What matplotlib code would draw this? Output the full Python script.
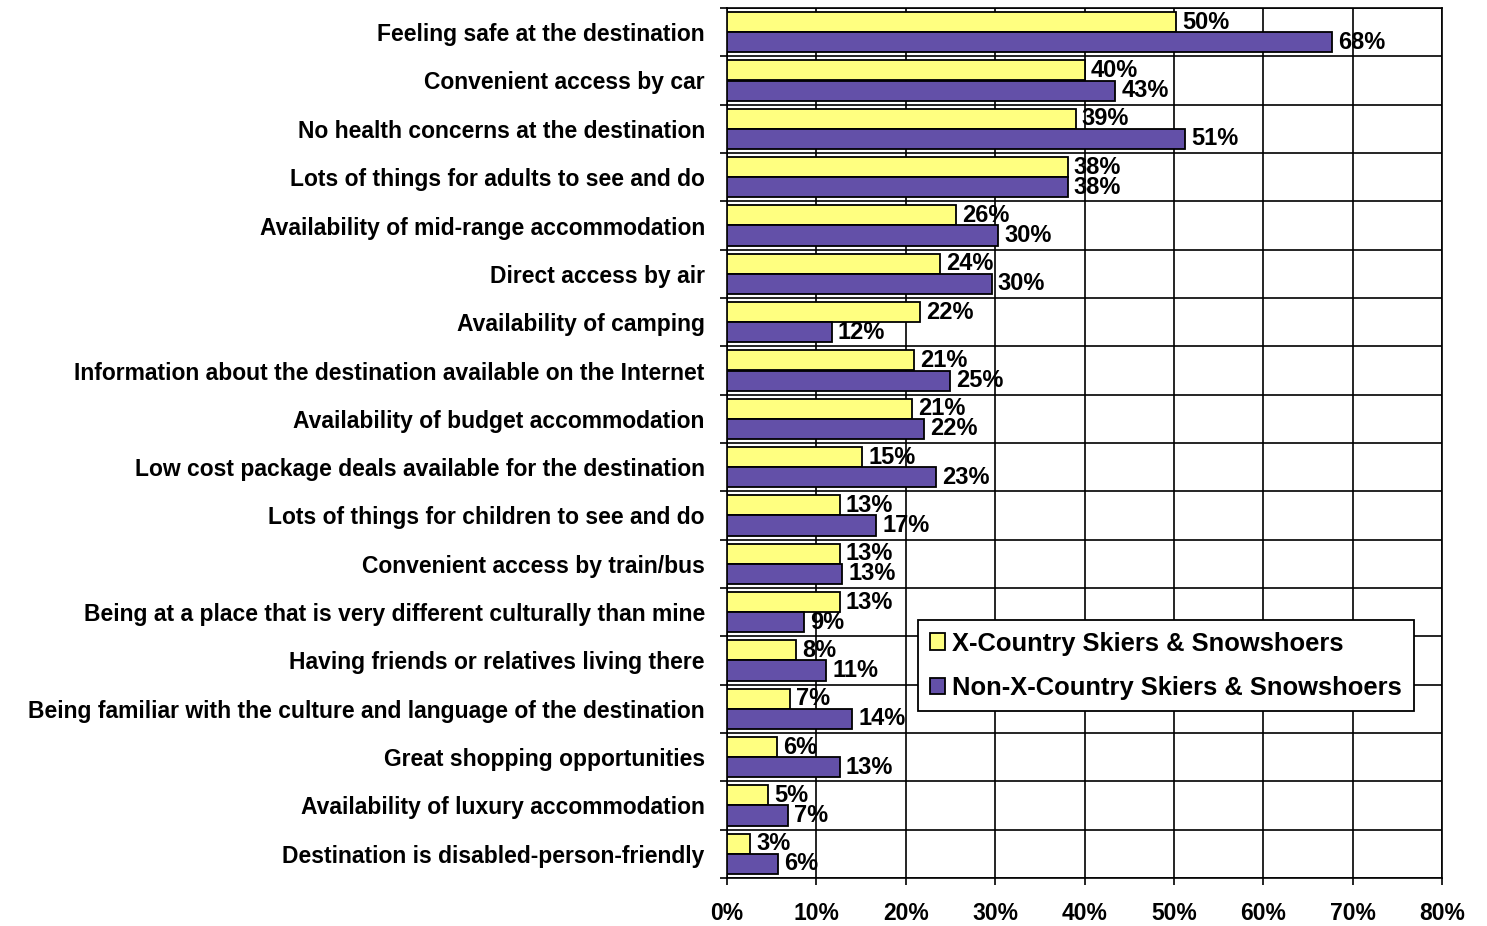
import matplotlib
matplotlib.use("Agg")
import matplotlib.pyplot as plt
import numpy as np
from matplotlib.ticker import MultipleLocator, FuncFormatter

categories = [
    "Feeling safe at the destination",
    "Convenient access by car",
    "No health concerns at the destination",
    "Lots of things for adults to see and do",
    "Availability of mid-range accommodation",
    "Direct access by air",
    "Availability of camping",
    "Information about the destination available on the Internet",
    "Availability of budget accommodation",
    "Low cost package deals available for the destination",
    "Lots of things for children to see and do",
    "Convenient access by train/bus",
    "Being at a place that is very different culturally than mine",
    "Having friends or relatives living there",
    "Being familiar with the culture and language of the destination",
    "Great shopping opportunities",
    "Availability of luxury accommodation",
    "Destination is disabled-person-friendly",
]
xc_skiers = [50.2, 40.0, 39.0, 38.1, 25.6, 23.8, 21.6, 20.9, 20.7, 15.1,
             12.6, 12.6, 12.6, 7.7, 7.0, 5.6, 4.6, 2.6]
non_xc = [67.7, 43.4, 51.3, 38.1, 30.3, 29.6, 11.7, 24.9, 22.0, 23.4,
          16.7, 12.9, 8.6, 11.1, 14.0, 12.6, 6.8, 5.7]
series_names = ["X-Country Skiers & Snowshoers", "Non-X-Country Skiers & Snowshoers"]
colors = ["#FFFF80", "#6350A8"]

plt.rcParams['font.family'] = ['Liberation Sans', 'DejaVu Sans']
plt.rcParams['font.weight'] = 'bold'

fig = plt.figure(figsize=(14.87, 9.26), dpi=100)
ax = fig.add_axes([727/1487, 1-878/926, (1442-727)/1487, (878-8)/926])

y = np.arange(len(categories))
h = 0.415
b1 = ax.barh(y - h/2, xc_skiers, height=h, color=colors[0], edgecolor='black',
             linewidth=1.3, label=series_names[0], zorder=3)
b2 = ax.barh(y + h/2, non_xc, height=h, color=colors[1], edgecolor='black',
             linewidth=1.3, label=series_names[1], zorder=3)

for bars, vals in ((b1, xc_skiers), (b2, non_xc)):
    for rect, v in zip(bars, vals):
        ax.annotate(f"{v:.0f}%", (rect.get_width(), rect.get_y() + rect.get_height()/2),
                    xytext=(4.5, 0), textcoords='offset points', va='center', ha='left',
                    fontsize=17, fontweight='bold', zorder=5)

ax.set_xlim(0, 80)
ax.set_ylim(len(categories) - 0.5, -0.5)
ax.xaxis.set_major_locator(MultipleLocator(10))
ax.xaxis.set_major_formatter(FuncFormatter(lambda v, p: f"{v:.0f}%"))
ax.set_yticks(y)
ax.set_yticklabels(categories)
ax.set_yticks(np.arange(len(categories) + 1) - 0.5, minor=True)

ax.grid(axis='x', which='major', color='black', linewidth=1.2, zorder=0)
ax.grid(axis='y', which='minor', color='black', linewidth=1.2, zorder=0)

ax.tick_params(axis='y', which='major', length=0, pad=16, labelsize=16.5)
ax.tick_params(axis='y', which='minor', length=5, width=1.2, direction='out')
ax.tick_params(axis='x', which='major', length=5, width=1.2, pad=12, labelsize=16.5)
for lab in ax.get_xticklabels() + ax.get_yticklabels():
    lab.set_fontweight('bold')
for s in ax.spines.values():
    s.set_linewidth(1.2)
    s.set_color('black')

leg = ax.legend(loc='upper left', bbox_to_anchor=((918-727)/715, 1-(620-8)/870),
                fontsize=18.4, frameon=True, fancybox=False, edgecolor='black',
                handlelength=0.6, handleheight=0.6, handletextpad=0.3,
                borderpad=0.45, labelspacing=0.8, borderaxespad=0, framealpha=1)
leg.get_frame().set_linewidth(1.3)
leg.set_zorder(10)
for t in leg.get_texts():
    t.set_fontweight('bold')

fig.savefig("out.png", dpi=100)
